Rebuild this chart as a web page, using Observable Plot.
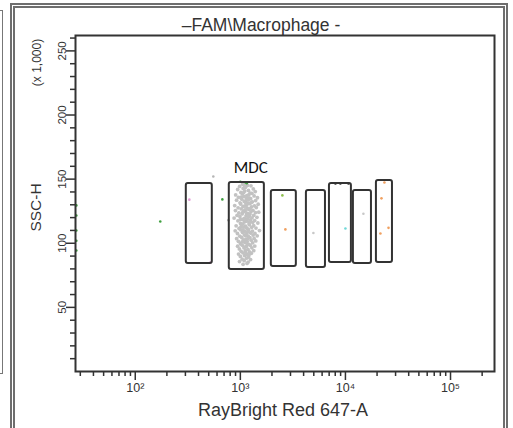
<!DOCTYPE html>
<html>
<head>
<meta charset="utf-8">
<script src="https://cdn.jsdelivr.net/npm/d3@7"></script>
<script src="https://cdn.jsdelivr.net/npm/@observablehq/plot@0.6"></script>
<style>
  html, body { margin: 0; padding: 0; background: #fff; overflow: hidden; }
  #wrap { position: relative; width: 513px; height: 428px; overflow: hidden; }
  #chart { position: absolute; left: 0; top: 0; }
  .border-outer { position: absolute; left: 10px; top: 3px; width: 488px; height: 460px; border: 5px double #6e6e6e; pointer-events: none; }
  .border-left { position: absolute; left: -10px; top: 10px; width: 11px; height: 362px; border: 1.5px solid #777; pointer-events: none; }
</style>
</head>
<body>
<div id="wrap">
  <div id="chart"></div>
  <div class="border-outer"></div>
  <div class="border-left"></div>
</div>
<script>
// ---- Text ----
const titleText = "–FAM\\Macrophage -";
const xLabelText = "RayBright Red 647-A";
const yLabelText = "SSC-H";
const yUnitText = "(x 1,000)";
const mdcLabel = "MDC";

// ---- Axis ticks ----
const xMajorTicks = [100, 1000, 10000, 100000];
const xMajorLabels = ["10²", "10³", "10⁴", "10⁵"];
const xMinorTicks = [30, 40, 50, 60, 70, 80, 90,
  200, 300, 400, 500, 600, 700, 800, 900,
  2000, 3000, 4000, 5000, 6000, 7000, 8000, 9000,
  20000, 30000, 40000, 50000, 60000, 70000, 80000, 90000,
  200000];
const yMajorTicks = [50, 100, 150, 200, 250];
const yMinorTicks = [10, 20, 30, 40, 60, 70, 80, 90, 110, 120, 130, 140,
  160, 170, 180, 190, 210, 220, 230, 240, 260];

// ---- Gates (rectangles) ----
const gateX1 = [306, 785, 1972, 4253, 7046, 11910, 19720];
const gateX2 = [541, 1693, 3411, 6457, 11400, 17690, 28030];
const gateY1 = [84.2, 79.6, 81.9, 81.1, 85.0, 84.2, 85.0];
const gateY2 = [146.6, 147.4, 141.2, 141.2, 146.6, 141.2, 149.0];

// ---- Grey events in the MDC gate: [RayBright Red 647-A, SSC-H (x1000)] ----
const mdcEvents = [
  [1050,146.1],[1172,145.2],[985,144.3],[1118,143.6],[1262,144.8],[943,141.9],[1064,142.7],[1195,141.2],
  [1328,142.4],[1012,139.6],[1103,140.8],[1236,139.1],[1386,140.3],[903,137.7],[1043,138.5],[1152,137.2],
  [1287,138.9],[962,135.8],[1081,136.6],[1208,135.3],[1352,136.9],[1455,135.5],[921,133.6],[1032,134.4],
  [1127,133.1],[1254,134.7],[1398,133.3],[993,131.5],[1089,132.6],[1183,131.2],[1301,132.3],[884,129.4],
  [1008,130.6],[1141,129.7],[1228,130.9],[1362,129.2],[1478,130.4],[952,127.6],[1061,128.7],[1163,127.3],
  [1277,128.4],[1417,127.9],[898,125.5],[1019,126.8],[1112,125.2],[1203,126.4],[1318,125.7],[968,123.6],
  [1073,124.8],[1168,123.3],[1262,124.5],[1393,123.9],[1497,124.2],[931,121.7],[1038,122.9],[1134,121.4],
  [1231,122.6],[1342,121.8],[872,119.6],[991,120.7],[1092,119.3],[1187,120.4],[1293,119.8],[1438,120.2],
  [948,117.5],[1052,118.6],[1149,117.2],[1247,118.3],[1368,117.7],[1003,115.4],[1098,116.7],[1212,115.2],
  [1309,116.3],[1468,115.8],[912,113.6],[1028,114.7],[1121,113.3],[1219,114.4],[1338,113.8],[972,111.5],
  [1078,112.6],[1171,111.2],[1282,112.4],[1408,111.8],[893,109.7],[1012,110.4],[1102,109.3],[1198,110.6],
  [1303,109.5],[1521,109.9],[938,107.6],[1048,108.5],[1152,107.2],[1253,108.3],[1378,107.7],[988,105.5],
  [1093,106.6],[1191,105.3],[1322,106.4],[1447,105.8],[922,103.6],[1031,104.5],[1129,103.2],[1232,104.4],
  [1352,103.7],[958,101.5],[1068,102.6],[1162,101.3],[1268,102.4],[1402,101.8],[1002,99.6],[1108,100.5],
  [1209,99.2],[1311,100.3],[942,97.7],[1042,98.5],[1138,97.3],[1243,98.4],[1372,97.8],[978,95.6],
  [1082,96.5],[1182,95.3],[1288,96.4],[1018,93.7],[1118,94.5],[1222,93.3],[1341,94.2],[961,91.6],
  [1058,92.5],[1158,91.3],[1272,92.2],[1001,89.7],[1098,90.5],[1199,89.3],[1041,87.6],[1142,88.4],
  [1251,87.3],[982,85.7],[1088,86.4],[1188,85.3],[1062,83.6],[1158,84.3],
  [1110,128.9],[1150,123.0],[1090,117.9],[1140,112.0],[1120,106.0],[1100,97.0],[1130,131.0],[1170,119.0],
  [1060,110.5],[1180,103.5],[1020,136.0],[1240,127.0],[1000,118.5],[1260,108.0],[1040,101.0],[1210,91.0],
  [1075,139.5],[1190,133.8],[1105,126.0],[1215,120.9],[1060,115.1],[1175,108.9],[1085,102.0],[1165,98.9],
  [1125,92.8],[1055,124.0],[1230,116.9],[1015,112.8],[1145,135.0],[1270,131.7],[1095,144.9],[1205,137.9]
];

// ---- Other scattered events ----
const otherX = [1000, 1116, 1150, 674, 327, 518, 553, 769, 173, 27.5, 27.5, 27.5, 27.5, 27.5,
  2512, 2683, 4955, 10000, 14830, 23500, 22020, 25700, 21520, 8035, 8955, 10690];
const otherY = [148.0, 147.4, 146.8, 134.2, 134.0, 85.0, 152.0, 118.0, 117.0, 129.5, 121.7, 110.0, 102.0, 94.4,
  137.3, 110.8, 108.0, 111.5, 123.0, 147.4, 135.0, 112.0, 107.6, 146.6, 146.6, 146.6];
const otherColor = ["#3f9f3f", "#3f9f3f", "#3f9f3f", "#3f9f3f", "#e59ad8", "#e59ad8", "#b5b5b5", "#b5b5b5", "#3f9f3f",
  "#3f9f3f", "#3f9f3f", "#3f9f3f", "#3f9f3f", "#3f9f3f",
  "#8fbf4f", "#f0a060", "#c8c8c8", "#70d8d8", "#c8c8c8", "#f0a060", "#f0a060", "#f0a060", "#f0a060",
  "#222222", "#222222", "#222222"];

// ---- Build tables ----
const gates = gateX1.map((x1, i) => ({x1, x2: gateX2[i], y1: gateY1[i], y2: gateY2[i]}));
const events = mdcEvents.map(([x, y]) => ({x, y}));
const others = otherX.map((x, i) => ({x, y: otherY[i], color: otherColor[i]}));
const mdcGate = gates[1];

const font = "'Liberation Sans', Arial, sans-serif";

const chart = Plot.plot({
  width: 513,
  height: 428,
  marginLeft: 75,
  marginRight: 19,
  marginTop: 35,
  marginBottom: 57,
  style: {fontFamily: font, background: "transparent", color: "#333"},
  x: {type: "log", domain: [27, 262144]},
  y: {domain: [0, 262]},
  color: {type: "identity"},
  marks: [
    Plot.dot(events, {x: "x", y: "y", r: 1.9, fill: "#c2c2c2", stroke: null}),
    Plot.dot(others, {x: "x", y: "y", r: 1.3, fill: "color", stroke: null}),
    Plot.rect(gates, {x1: "x1", x2: "x2", y1: "y1", y2: "y2", fill: "none", stroke: "#333", strokeWidth: 2, rx: 2}),
    Plot.text([mdcLabel], {x: [Math.sqrt(mdcGate.x1 * mdcGate.x2)], y: [mdcGate.y2], text: d => d, dx: 4, dy: -15,
      fontSize: 17, fill: "#111", fontFamily: "Carlito, Lato, 'Open Sans', sans-serif"}),
    Plot.frame({stroke: "#333", strokeWidth: 2}),
    Plot.axisX({ticks: xMinorTicks, tickSize: 5, tickFormat: () => "", color: "#333", strokeWidth: 1.5}),
    Plot.axisX({ticks: xMajorTicks, tickSize: 9, tickPadding: 3, fontSize: 12.5, color: "#333", strokeWidth: 1.5,
      tickFormat: d => xMajorLabels[xMajorTicks.indexOf(d)], label: null}),
    Plot.axisY({ticks: yMinorTicks, tickSize: 5, tickFormat: () => "", color: "#333", strokeWidth: 1.5}),
    Plot.axisY({ticks: yMajorTicks, tickSize: 9, tickPadding: 1, tickRotate: -90, fontSize: 11.5, color: "#333",
      strokeWidth: 1.5, label: null}),
    Plot.text([titleText], {frameAnchor: "top", textAnchor: "middle", lineAnchor: "middle", text: d => d,
      dx: -24, dy: -10, fontSize: 17.5, fill: "#333"}),
    Plot.text([xLabelText], {frameAnchor: "bottom", textAnchor: "middle", lineAnchor: "middle", text: d => d,
      dx: -2, dy: 39, fontSize: 18, fill: "#333"}),
    Plot.text([yLabelText], {frameAnchor: "left", textAnchor: "middle", lineAnchor: "middle", text: d => d,
      rotate: -90, dx: -39, dy: 4, fontSize: 15.5, fill: "#333"}),
    Plot.text([yUnitText], {frameAnchor: "top-left", textAnchor: "middle", lineAnchor: "middle", text: d => d,
      rotate: -90, dx: -38, dy: 27, fontSize: 12, fill: "#333"})
  ]
});
document.getElementById("chart").appendChild(chart);
</script>
</body>
</html>
